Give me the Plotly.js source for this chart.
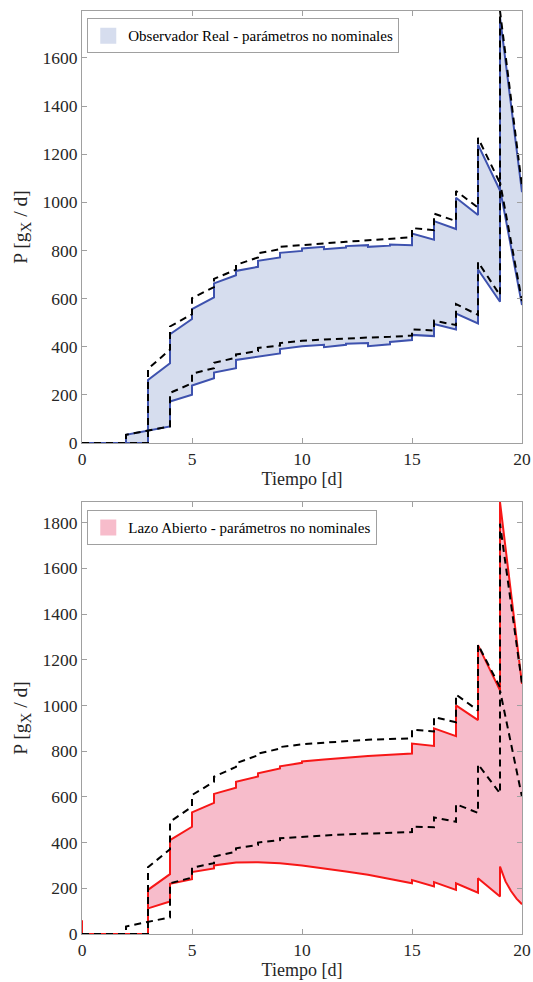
<!DOCTYPE html>
<html>
<head>
<meta charset="utf-8">
<script src="https://cdn.plot.ly/plotly-3.0.1.min.js"></script>
<style>
  html, body { margin: 0; padding: 0; background: #ffffff; }
  #chart { width: 533px; height: 982px; }
</style>
</head>
<body>
<div id="chart"></div>
<script>
// ---------- Observador Real (top panel) ----------
const obsUpperT = [0, 3, 3, 4, 4, 5, 5, 6, 6, 7, 7, 8, 8, 9, 9, 10, 10, 11, 11, 12, 12, 13, 13, 14, 14, 15, 15, 16, 16, 17, 17, 18, 18, 19, 19, 20];
const obsUpperP = [0, 0, 262, 331, 452, 515, 556, 605, 663, 697, 715, 732, 757, 771, 790, 798, 808, 815, 805, 812, 818, 822, 815, 820, 825, 822, 870, 845, 922, 889, 1019, 947, 1240, 1049, 1770, 1042];

const obsLowerT = [0, 2, 2, 3, 4, 4, 5, 5, 6, 6, 7, 7, 8, 8, 9, 9, 10, 10, 11, 11, 12, 12, 13, 13, 14, 14, 15, 15, 16, 16, 17, 17, 18, 18, 19, 19, 20];
const obsLowerP = [0, 0, 34, 52, 69, 172, 200, 239, 269, 293, 311, 345, 358, 356, 372, 390, 400, 402, 408, 398, 408, 412, 415, 402, 410, 420, 428, 449, 444, 494, 472, 538, 497, 721, 587, 1056, 573];

const obsNomUpperT = [0, 3, 3, 4, 4, 5, 5, 6, 6, 7, 7, 8, 8, 9, 9, 10, 11, 12, 13, 14, 15, 15, 16, 16, 17, 17, 18, 18, 19, 19, 20];
const obsNomUpperP = [0, 0, 308, 388, 484, 535, 602, 648, 682, 720, 740, 771, 788, 805, 815, 823, 829, 836, 842, 848, 855, 893, 884, 953, 922, 1047, 978, 1268, 1080, 1795, 1066];

const obsNomLowerT = [0, 2, 2, 3, 4, 4, 5, 5, 6, 6, 7, 7, 8, 8, 9, 9, 10, 11, 12, 13, 14, 15, 15, 16, 16, 17, 17, 18, 18, 19, 19, 20];
const obsNomLowerP = [0, 0, 34, 52, 69, 208, 248, 288, 311, 333, 354, 368, 382, 395, 405, 415, 425, 430, 435, 438, 441, 446, 472, 467, 508, 490, 577, 532, 752, 614, 1084, 590];

// ---------- Lazo Abierto (bottom panel) ----------
const olUpperT = [0, 0, 3, 3, 4, 4, 5, 5, 6, 6, 7, 7, 8, 8, 9, 9, 10, 10, 11, 12, 13, 14, 15, 15, 16, 16, 17, 17, 18, 18, 19, 19, 20];
const olUpperP = [60, 0, 0, 193, 262, 411, 469, 532, 574, 613, 640, 666, 689, 703, 724, 734, 749, 755, 763, 772, 779, 784, 790, 833, 823, 900, 866, 1000, 936, 1264, 1066, 1890, 1094];

const olLowerT = [0, 3, 3, 4, 4, 5, 5, 6, 6, 7, 7, 8, 9, 10, 11, 12, 13, 14, 15, 15, 16, 16, 17, 17, 18, 18, 19, 19, 19.25, 19.5, 19.75, 20];
const olLowerP = [0, 0, 112, 142, 220, 240, 271, 287, 300, 310, 313, 314, 310, 300, 288, 273, 259, 241, 222, 236, 208, 227, 193, 222, 181, 244, 164, 295, 230, 188, 155, 130];

const olNomUpperT = [0, 3, 3, 4, 4, 5, 5, 6, 6, 7, 7, 8, 8, 9, 9, 10, 11, 12, 13, 14, 15, 15, 16, 16, 17, 17, 18, 18, 19, 19, 20];
const olNomUpperP = [0, 0, 292, 371, 491, 557, 608, 666, 688, 731, 747, 782, 789, 811, 818, 830, 837, 844, 850, 853, 856, 894, 886, 949, 927, 1048, 978, 1266, 1080, 1795, 1095];

const olNomLowerT = [0, 2, 2, 3, 4, 4, 5, 5, 6, 6, 7, 7, 8, 8, 9, 9, 10, 11, 12, 13, 14, 15, 15, 16, 16, 17, 17, 18, 18, 19, 19, 20];
const olNomLowerP = [0, 0, 33, 52, 73, 222, 247, 290, 310, 339, 360, 375, 390, 400, 411, 419, 426, 431, 436, 440, 443, 446, 470, 467, 510, 491, 568, 530, 743, 615, 1066, 600];

const xTicks = [0, 5, 10, 15, 20];
const yTicksTop = [0, 200, 400, 600, 800, 1000, 1200, 1400, 1600];
const yTicksBottom = [0, 200, 400, 600, 800, 1000, 1200, 1400, 1600, 1800];

const legendTop = 'Observador Real - parámetros no nominales';
const legendBottom = 'Lazo Abierto - parámetros no nominales';
const xTitle = 'Tiempo [d]';
const yTitle = 'P [g<sub><span style="font-size:15px">X</span></sub> / d]';

// ---------- styles ----------
const FONT = 'Liberation Serif';
const blueLine = '#3e52ae';
const blueFill = 'rgb(214,221,238)';
const redLine = '#f71717';
const redFill = 'rgb(247,188,203)';
const dash = {color: '#000000', width: 2, dash: '7px,5px'};

function band(lt, lp, ut, up, xa, ya, fill) {
  return [
    {x: lt, y: lp, xaxis: xa, yaxis: ya, mode: 'lines', line: {width: 0, color: fill}, showlegend: false, hoverinfo: 'skip'},
    {x: ut, y: up, xaxis: xa, yaxis: ya, mode: 'lines', fill: 'tonexty', fillcolor: fill,
     line: {width: 0, color: fill}, showlegend: false, hoverinfo: 'skip'}
  ];
}
function ln(t, p, xa, ya, line) {
  return {x: t, y: p, xaxis: xa, yaxis: ya, mode: 'lines', line: line, showlegend: false, hoverinfo: 'skip'};
}
// legend entry: a square patch (no data points of its own)
function patch(name, fill, xa, ya, leg) {
  return {x: [null], y: [null], xaxis: xa, yaxis: ya, mode: 'markers', name: name, legend: leg,
          marker: {symbol: 'square', size: 16, color: fill, line: {width: 0}}, showlegend: true, hoverinfo: 'skip'};
}

const traces = [].concat(
  band(obsLowerT, obsLowerP, obsUpperT, obsUpperP, 'x', 'y', blueFill),
  [ln(obsUpperT, obsUpperP, 'x', 'y', {color: blueLine, width: 2}),
   ln(obsLowerT, obsLowerP, 'x', 'y', {color: blueLine, width: 2}),
   ln(obsNomUpperT, obsNomUpperP, 'x', 'y', dash),
   ln(obsNomLowerT, obsNomLowerP, 'x', 'y', dash),
   patch(legendTop, blueFill, 'x', 'y', 'legend')],
  band(olLowerT, olLowerP, olUpperT, olUpperP, 'x2', 'y2', redFill),
  [ln(olUpperT, olUpperP, 'x2', 'y2', {color: redLine, width: 2}),
   ln(olLowerT, olLowerP, 'x2', 'y2', {color: redLine, width: 2}),
   ln(olNomUpperT, olNomUpperP, 'x2', 'y2', dash),
   ln(olNomLowerT, olNomLowerP, 'x2', 'y2', dash),
   patch(legendBottom, redFill, 'x2', 'y2', 'legend2')]
);

const axColor = '#a0a0a0';
function xAxis(anchor) {
  return {
    anchor: anchor, domain: [0, 1], range: [0, 20], tickvals: xTicks, ticktext: xTicks.map(String),
    showgrid: false, zeroline: false, showline: true, linecolor: axColor, linewidth: 1,
    mirror: 'ticks', ticks: 'inside', ticklen: 5, tickcolor: axColor,
    tickfont: {family: FONT, size: 17.5, color: '#262626'},
    title: {text: xTitle, font: {family: FONT, size: 18, color: '#262626'}, standoff: 2}
  };
}
function yAxis(anchor, domain, top, ticks) {
  return {
    anchor: anchor, domain: domain, range: [0, top], tickvals: ticks, ticktext: ticks.map(String),
    showgrid: false, zeroline: false, showline: true, linecolor: axColor, linewidth: 1,
    mirror: 'ticks', ticks: 'inside', ticklen: 5, tickcolor: axColor,
    tickfont: {family: FONT, size: 17.5, color: '#262626'},
    title: {text: yTitle, font: {family: FONT, size: 19.5, color: '#262626'}, standoff: 9}
  };
}
function legendBox(y) {
  return {
    x: 0.012, y: y, xanchor: 'left', yanchor: 'top', bgcolor: '#ffffff',
    bordercolor: '#a0a0a0', borderwidth: 1,
    font: {family: FONT, size: 15, color: '#000000'},
    itemwidth: 30, tracegroupgap: 0
  };
}

const layout = {
  width: 533, height: 982,
  margin: {l: 82, r: 11, t: 11, b: 48},
  paper_bgcolor: '#ffffff', plot_bgcolor: '#ffffff',
  font: {family: FONT, size: 18, color: '#262626'},
  xaxis: xAxis('y'),
  yaxis: yAxis('x', [0.532, 1], 1795, yTicksTop),
  xaxis2: xAxis('y2'),
  yaxis2: yAxis('x2', [0, 0.468], 1890, yTicksBottom),
  legend: legendBox(0.992),
  legend2: legendBox(0.459),
  showlegend: true
};

Plotly.newPlot('chart', traces, layout, {displayModeBar: false, staticPlot: true});
</script>
</body>
</html>
